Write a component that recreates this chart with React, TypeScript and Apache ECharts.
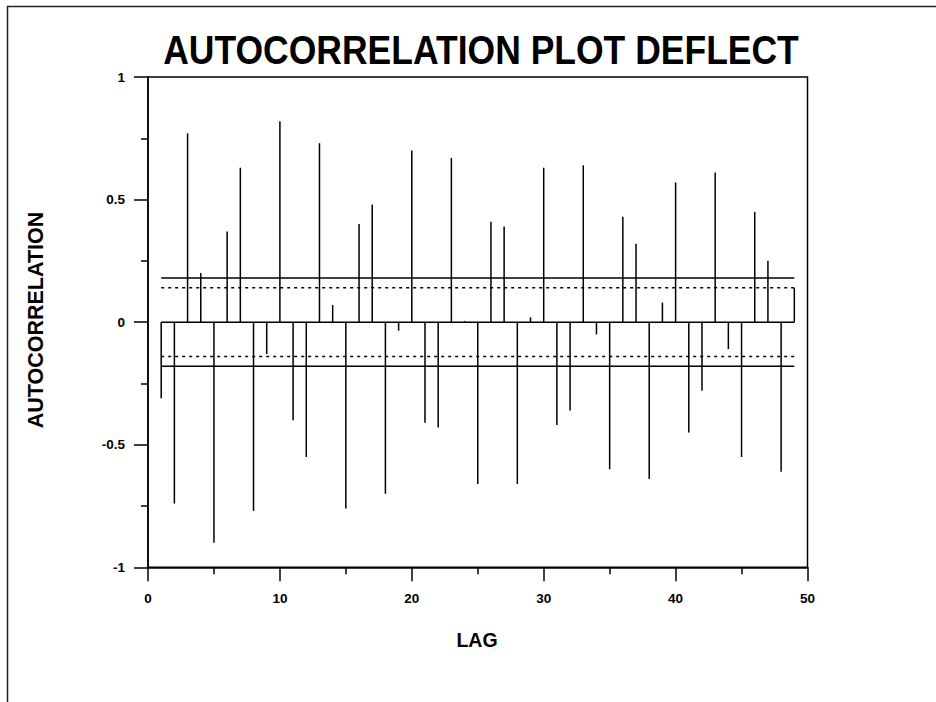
import React, { useEffect, useRef } from "react";
import * as echarts from "echarts";

const lags: number[] = Array.from({ length: 49 }, (_, i) => i + 1);
const acf: number[] = [
  -0.31, -0.74, 0.77, 0.2, -0.9, 0.37, 0.63, -0.77, -0.13, 0.82,
  -0.4, -0.55, 0.73, 0.07, -0.76, 0.4, 0.48, -0.7, -0.035, 0.7,
  -0.41, -0.43, 0.67, 0.005, -0.66, 0.41, 0.39, -0.66, 0.02, 0.63,
  -0.42, -0.36, 0.64, -0.05, -0.6, 0.43, 0.32, -0.64, 0.08, 0.57,
  -0.45, -0.28, 0.61, -0.11, -0.55, 0.45, 0.25, -0.61, 0.14,
];
const bound95 = 0.18;
const bound90 = 0.14;
const titleText = "AUTOCORRELATION PLOT DEFLECT";
const xName = "LAG";
const yName = "AUTOCORRELATION";

const FONT = "'Liberation Sans', Arial, Helvetica, sans-serif";

export default function App() {
  const ref = useRef<HTMLDivElement>(null);
  useEffect(() => {
    document.body.style.margin = "0";
    const chart = echarts.init(ref.current!, null, { renderer: "svg" });
    const first = lags[0];
    const last = lags[lags.length - 1];
    const hline = (v: number, type: "solid" | "dotted") => ({
      type: "line",
      data: [
        [first, v],
        [last, v],
      ],
      symbol: "none",
      lineStyle: { color: "#000", width: 1.5, type: type === "dotted" ? [3, 4] : "solid" },
      silent: true,
      z: 3,
    });
    chart.setOption({
      animation: false,
      backgroundColor: "#fff",
      grid: {
        left: 148,
        top: 77,
        right: 128.5,
        bottom: 134.7,
        show: true,
        borderColor: "#000",
        borderWidth: 1.5,
        backgroundColor: "transparent",
      },
      xAxis: {
        type: "value",
        min: 0,
        max: 50,
        interval: 10,
        axisLine: { show: true, onZero: false, lineStyle: { color: "#000", width: 1.5 } },
        axisTick: { show: true, length: 14, lineStyle: { color: "#000", width: 1.5 } },
        minorTick: { show: true, splitNumber: 2, length: 7, lineStyle: { color: "#000", width: 1.5 } },
        splitLine: { show: false },
        axisLabel: {
          color: "#000",
          fontFamily: FONT,
          fontWeight: "bold",
          fontSize: 13.5,
          margin: 24,
        },
      },
      yAxis: {
        type: "value",
        min: -1,
        max: 1,
        interval: 0.5,
        axisLine: { show: true, onZero: false, lineStyle: { color: "#000", width: 1.5 } },
        axisTick: { show: true, length: 14, lineStyle: { color: "#000", width: 1.5 } },
        minorTick: { show: true, splitNumber: 2, length: 7, lineStyle: { color: "#000", width: 1.5 } },
        splitLine: { show: false },
        axisLabel: {
          color: "#000",
          fontFamily: FONT,
          fontWeight: "bold",
          fontSize: 13.5,
          margin: 23,
        },
      },
      series: [
        {
          type: "bar",
          data: lags.map((l, i) => [l, acf[i]]),
          barWidth: 1.5,
          itemStyle: { color: "#000" },
          silent: true,
          z: 4,
        },
        hline(0, "solid"),
        hline(bound95, "solid"),
        hline(-bound95, "solid"),
        hline(bound90, "dotted"),
        hline(-bound90, "dotted"),
      ],
      graphic: [
        {
          type: "rect",
          shape: { x: 7.5, y: 6.5, width: 1000, height: 1000 },
          style: { fill: "none", stroke: "#222", lineWidth: 1.5 },
          silent: true,
        },
        {
          type: "text",
          x: 481,
          y: 50,
          scaleY: 1.15,
          style: {
            text: titleText,
            font: `bold 35.5px ${FONT}`,
            fill: "#000",
            textAlign: "center",
            textVerticalAlign: "middle",
          },
        },
        {
          type: "text",
          x: 36,
          y: 320,
          rotation: Math.PI / 2,
          style: {
            text: yName,
            font: `bold 21.5px ${FONT}`,
            fill: "#000",
            textAlign: "center",
            textVerticalAlign: "middle",
          },
        },
        {
          type: "text",
          x: 477,
          y: 640,
          style: {
            text: xName,
            font: `bold 19.5px ${FONT}`,
            fill: "#000",
            textAlign: "center",
            textVerticalAlign: "middle",
          },
        },
      ],
    });
    return () => chart.dispose();
  }, []);
  return <div ref={ref} style={{ width: 936, height: 702 }} />;
}
